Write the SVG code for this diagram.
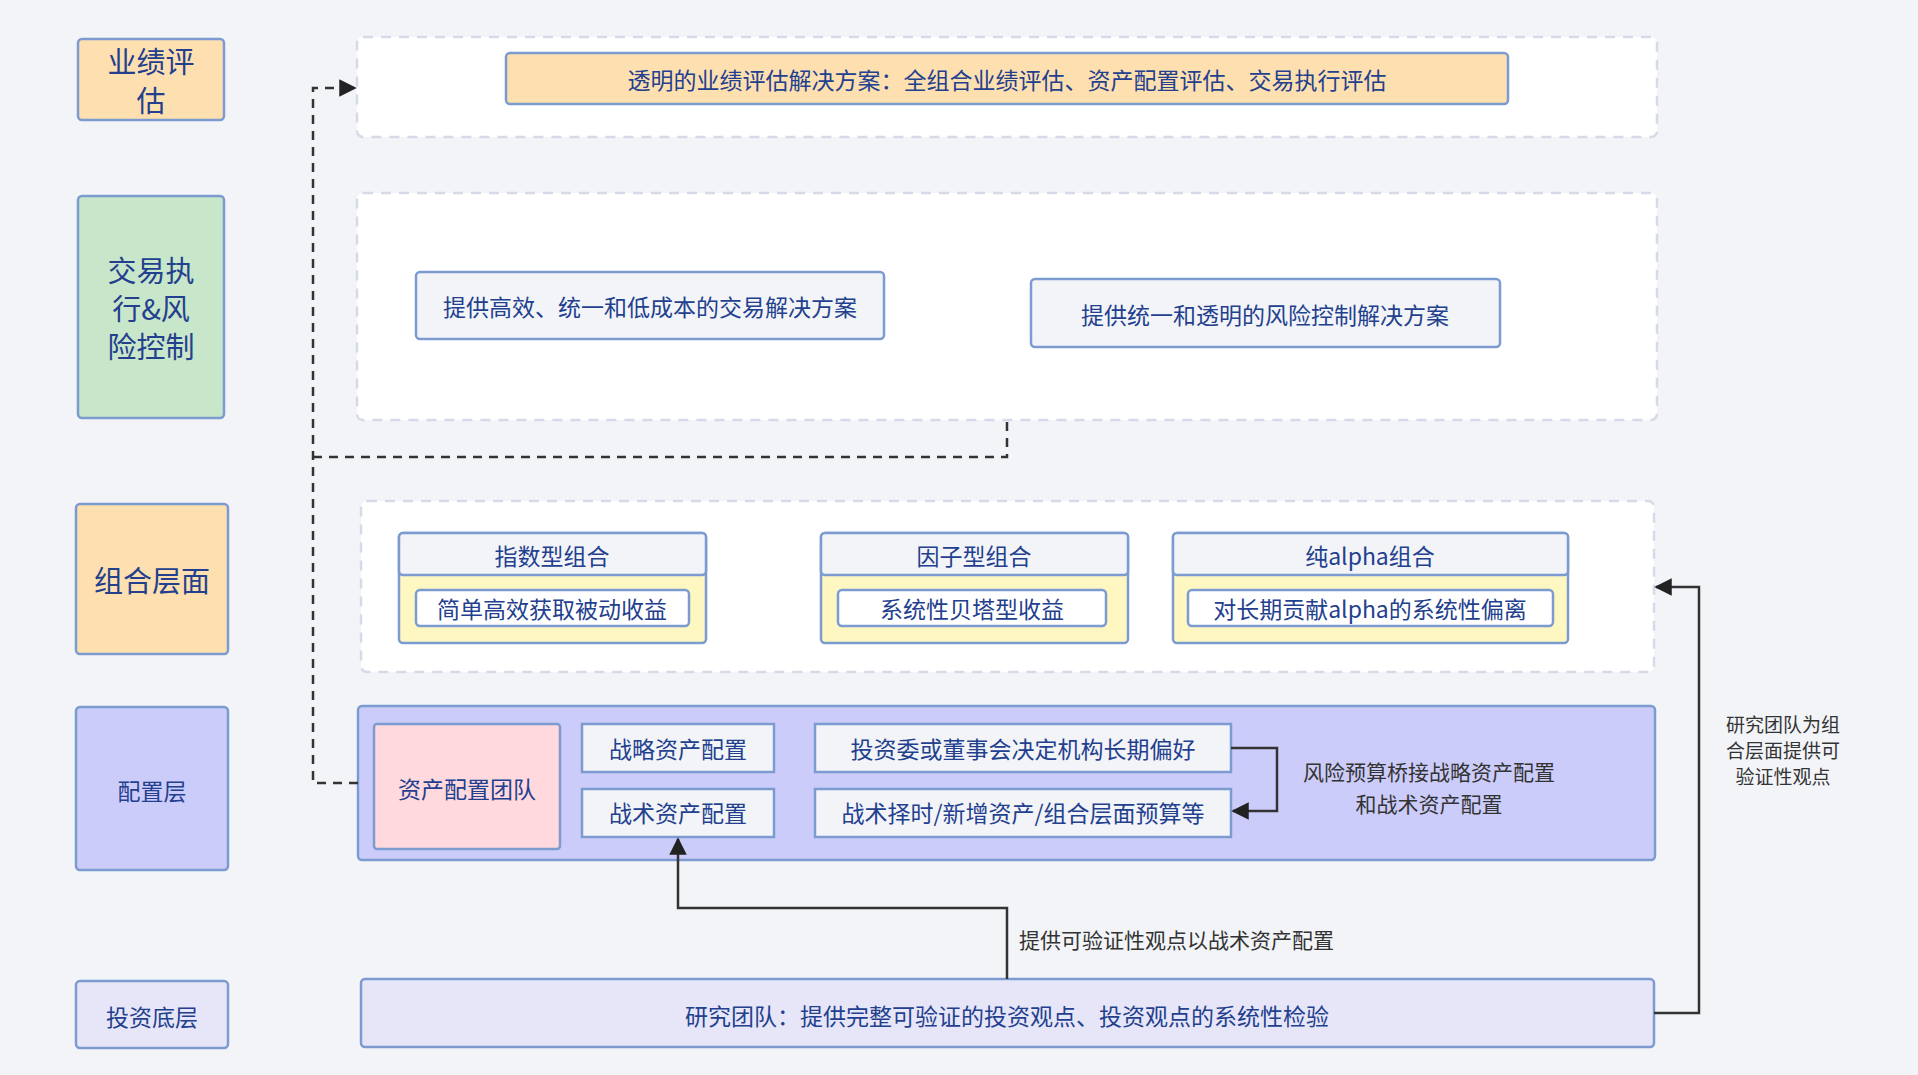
<svg xmlns="http://www.w3.org/2000/svg" width="1918" height="1075" viewBox="0 0 1918 1075">
<defs>
<style>
text{font-family:"Noto Sans CJK SC","Liberation Sans",sans-serif;fill:#23408e;text-anchor:middle;dominant-baseline:central}
.b{stroke:#7c9bd0;stroke-width:2.5}
.dash{fill:#fff;stroke:#d5dae6;stroke-width:2.5;stroke-dasharray:10 8}
.big{font-size:29px}
.m{font-size:23px}
.g{fill:#333;font-size:21px}
.s{fill:#333;font-size:19px}
.c{fill:none;stroke:#333;stroke-width:2.5}
</style>
<marker id="a" viewBox="0 0 10 10" refX="9" refY="5" markerWidth="7" markerHeight="7" orient="auto"><path d="M0,0L10,5L0,10z" fill="#222"/></marker>
</defs>
<rect width="1918" height="1075" fill="#f2f4f8"/>
<g id="lanes">
<rect x="78" y="39" width="146" height="81" rx="4" fill="#fddfb0" class="b"/><text class="big" x="151" y="60">业绩评</text><text class="big" x="151" y="99">估</text>
<rect x="78" y="196" width="146" height="222" rx="4" fill="#c8e6c9" class="b"/><text class="big" x="151" y="269">交易执</text><text class="big" x="151" y="307">行&amp;风</text><text class="big" x="151" y="345">险控制</text>
<rect x="76" y="504" width="152" height="150" rx="4" fill="#fddfb0" class="b"/><text class="big" x="152" y="579">组合层面</text>
<rect x="76" y="707" width="152" height="163" rx="4" fill="#ccccfa" class="b"/><text class="m" x="152" y="790">配置层</text>
<rect x="76" y="981" width="152" height="67" rx="4" fill="#e6e6f8" class="b"/><text class="m" x="152" y="1016">投资底层</text>
</g>
<g id="containers">
<rect x="357" y="37" width="1300" height="100" rx="6" class="dash"/>
<rect x="357" y="193" width="1300" height="227" rx="6" class="dash"/>
<rect x="361" y="501" width="1293" height="171" rx="6" class="dash"/>
</g>
<g id="perf"><rect x="506" y="53" width="1002" height="51" rx="4" fill="#fddfb0" class="b"/><text class="m" x="1007" y="79">透明的业绩评估解决方案：全组合业绩评估、资产配置评估、交易执行评估</text></g>
<g id="trade"><rect x="416" y="272" width="468" height="67" rx="4" fill="#f2f4f8" class="b"/><text class="m" x="650" y="306">提供高效、统一和低成本的交易解决方案</text></g>
<g id="risk"><rect x="1031" y="279" width="469" height="68" rx="4" fill="#f2f4f8" class="b"/><text class="m" x="1265" y="314">提供统一和透明的风险控制解决方案</text></g>
<g id="index"><rect x="399" y="533" width="307" height="110" rx="4" fill="#fff7c2" class="b"/><rect x="399" y="533" width="307" height="42" rx="4" fill="#f2f4f8" class="b"/><text class="m" x="552" y="555">指数型组合</text><rect x="416" y="590" width="273" height="36" rx="4" fill="#fff" class="b"/><text class="m" x="552" y="608">简单高效获取被动收益</text></g>
<g id="factor"><rect x="821" y="533" width="307" height="110" rx="4" fill="#fff7c2" class="b"/><rect x="821" y="533" width="307" height="42" rx="4" fill="#f2f4f8" class="b"/><text class="m" x="974" y="555">因子型组合</text><rect x="838" y="590" width="268" height="36" rx="4" fill="#fff" class="b"/><text class="m" x="972" y="608">系统性贝塔型收益</text></g>
<g id="alpha"><rect x="1173" y="533" width="395" height="110" rx="4" fill="#fff7c2" class="b"/><rect x="1173" y="533" width="395" height="42" rx="4" fill="#f2f4f8" class="b"/><text class="m" x="1370" y="555">纯alpha组合</text><rect x="1188" y="590" width="365" height="36" rx="4" fill="#fff" class="b"/><text class="m" x="1370" y="608">对长期贡献alpha的系统性偏离</text></g>
<g id="config">
<rect x="358" y="706" width="1297" height="154" rx="4" fill="#ccccfa" class="b"/>
<rect x="374" y="724" width="186" height="125" rx="3" fill="#ffd9de" class="b"/><text class="m" x="467" y="788">资产配置团队</text>
<rect x="582" y="724" width="192" height="48" fill="#f2f4f8" class="b"/><text class="m" x="678" y="748">战略资产配置</text>
<rect x="582" y="789" width="192" height="48" fill="#f2f4f8" class="b"/><text class="m" x="678" y="812">战术资产配置</text>
<rect x="815" y="724" width="416" height="48" fill="#f2f4f8" class="b"/><text class="m" x="1023" y="748">投资委或董事会决定机构长期偏好</text>
<rect x="815" y="789" width="416" height="48" fill="#f2f4f8" class="b"/><text class="m" x="1023" y="812">战术择时/新增资产/组合层面预算等</text>
<text class="g" x="1429" y="771">风险预算桥接战略资产配置</text><text class="g" x="1429" y="803">和战术资产配置</text>
</g>
<g id="research"><rect x="361" y="979" width="1293" height="68" rx="4" fill="#e6e6f8" class="b"/><text class="m" x="1007" y="1015">研究团队：提供完整可验证的投资观点、投资观点的系统性检验</text></g>
<g id="connectors">
<path class="c" d="M1231,748H1277V811H1233" marker-end="url(#a)"/>
<path class="c" d="M1007,979V908H678V839" marker-end="url(#a)"/>
<text class="g" x="1019" y="939" style="text-anchor:start">提供可验证性观点以战术资产配置</text>
<path class="c" d="M1654,1013H1699V587H1656" marker-end="url(#a)"/>
<text class="s" x="1783" y="723">研究团队为组</text><text class="s" x="1783" y="749">合层面提供可</text><text class="s" x="1783" y="775">验证性观点</text>
<path class="c" stroke-dasharray="9 7" d="M358,783H313V88H355" marker-end="url(#a)"/>
<path class="c" stroke-dasharray="9 7" d="M313,457H1007V420"/>
</g>
</svg>
